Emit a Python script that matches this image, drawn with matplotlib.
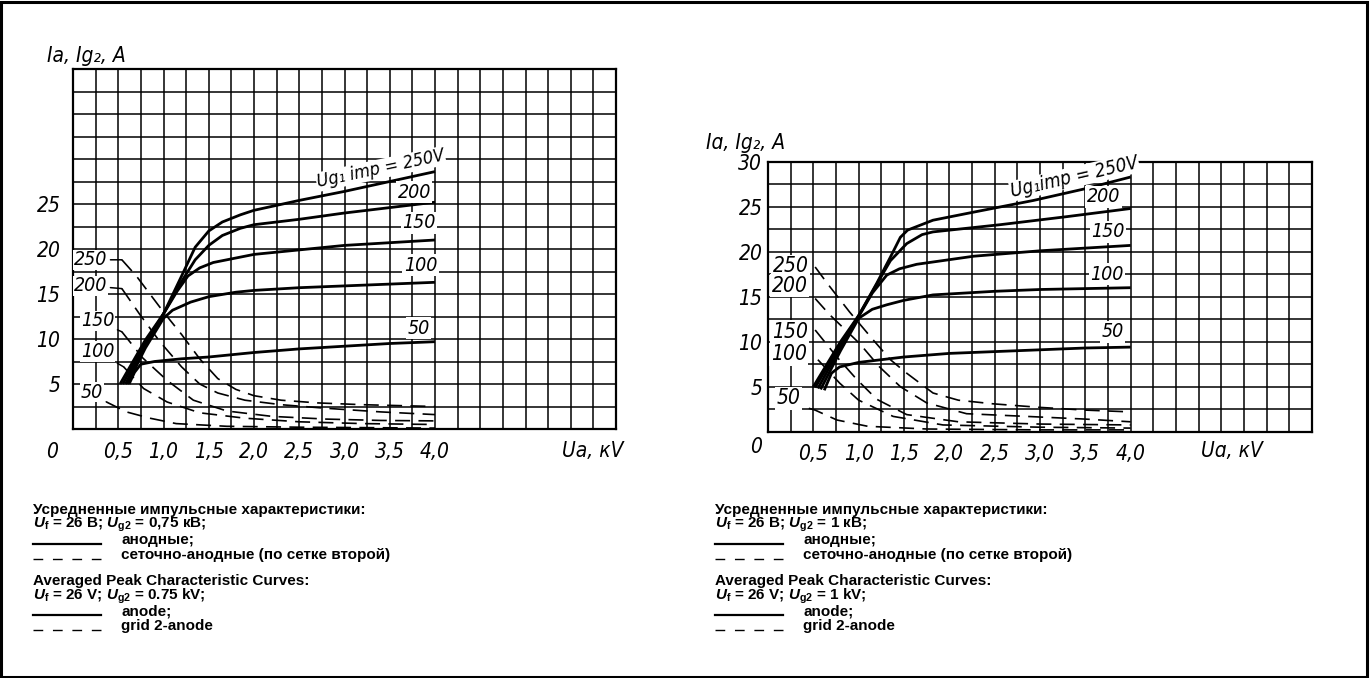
import numpy as np
import matplotlib.pyplot as plt
from matplotlib import font_manager
from matplotlib.lines import Line2D
from matplotlib.patches import Rectangle
from matplotlib.ticker import MultipleLocator, FuncFormatter

plt.rcParams['mathtext.fontset'] = 'custom'
plt.rcParams['mathtext.rm'] = 'Liberation Sans:bold'
plt.rcParams['mathtext.it'] = 'Liberation Sans:italic:bold'
plt.rcParams['mathtext.bf'] = 'Liberation Sans:bold'

names = {f.name for f in font_manager.fontManager.ttflist}
draw_font = 'Liberation Sans Narrow' if 'Liberation Sans Narrow' in names else 'DejaVu Sans'
DRAW = dict(family=[draw_font, 'DejaVu Sans'], style='italic', stretch='condensed')

# ---- data: Ua (kV), Ia / Ig2 (A), keyed by Ug1 imp (V) ----
left_anode = {
    50: ([0.62, 0.68, 0.75, 0.9, 1.2, 1.5, 2.0, 2.5, 3.0, 3.5, 4.0],
         [5.0, 6.3, 7.2, 7.5, 7.8, 8.0, 8.5, 8.9, 9.2, 9.5, 9.7]),
    100: ([0.6, 0.8, 1.0, 1.1, 1.3, 1.5, 1.8, 2.0, 2.5, 3.0, 3.5, 4.0],
          [5.0, 9.0, 12.3, 13.2, 14.1, 14.7, 15.2, 15.4, 15.7, 15.9, 16.1, 16.3]),
    150: ([0.58, 0.8, 1.0, 1.15, 1.27, 1.4, 1.55, 2.0, 2.5, 3.0, 3.5, 4.0],
          [5.0, 9.3, 12.8, 15.3, 17.0, 17.9, 18.5, 19.4, 19.9, 20.4, 20.7, 21.0]),
    200: ([0.55, 0.8, 1.0, 1.2, 1.35, 1.5, 1.65, 1.85, 2.0, 2.5, 3.0, 3.5, 4.0],
          [5.0, 9.6, 12.8, 16.4, 18.8, 20.4, 21.5, 22.3, 22.7, 23.3, 24.0, 24.6, 25.2]),
    250: ([0.52, 0.8, 1.0, 1.2, 1.35, 1.5, 1.65, 1.85, 2.0, 2.5, 3.0, 3.5, 4.0],
          [5.0, 9.9, 12.8, 17.0, 20.2, 22.0, 23.0, 23.8, 24.3, 25.4, 26.4, 27.5, 28.6]),
}
left_grid2 = {
    50: ([0.37, 0.59, 0.85, 1.14, 1.7, 2.5, 4.0],
         [3.0, 1.9, 1.2, 0.6, 0.3, 0.2, 0.1]),
    100: ([0.56, 0.78, 1.04, 1.4, 1.9, 2.5, 3.2, 4.0],
          [6.9, 4.5, 3.0, 1.8, 1.2, 0.8, 0.6, 0.5]),
    150: ([0.54, 0.77, 1.04, 1.33, 1.7, 2.2, 2.8, 3.4, 4.0],
          [10.8, 7.9, 5.4, 3.2, 2.0, 1.4, 1.1, 0.95, 0.9]),
    200: ([0.54, 0.74, 0.96, 1.2, 1.4, 1.6, 1.9, 2.3, 2.8, 3.4, 4.0],
          [15.6, 12.7, 9.7, 6.9, 5.0, 4.0, 3.2, 2.7, 2.3, 1.9, 1.6]),
    250: ([0.54, 0.7, 0.85, 1.0, 1.2, 1.4, 1.6, 1.8, 2.0, 2.3, 2.7, 3.2, 3.6, 4.0],
          [18.8, 17.0, 15.0, 13.0, 10.5, 7.8, 5.6, 4.4, 3.7, 3.2, 2.9, 2.7, 2.6, 2.5]),
}
right_anode = {
    50: ([0.62, 0.7, 0.79, 1.0, 1.5, 2.0, 2.5, 3.0, 3.5, 4.0],
         [4.6, 6.5, 7.2, 7.7, 8.3, 8.7, 8.9, 9.1, 9.3, 9.4]),
    100: ([0.58, 0.8, 1.0, 1.15, 1.31, 1.5, 1.82, 2.5, 3.0, 4.0],
          [4.7, 9.0, 12.6, 13.6, 14.1, 14.6, 15.2, 15.6, 15.8, 16.0]),
    150: ([0.55, 0.8, 1.0, 1.15, 1.31, 1.45, 1.64, 2.27, 3.0, 4.0],
          [4.8, 9.4, 12.8, 15.4, 17.4, 18.1, 18.6, 19.5, 20.1, 20.7]),
    200: ([0.52, 0.8, 1.0, 1.2, 1.35, 1.53, 1.7, 1.82, 2.56, 3.3, 4.0],
          [4.9, 9.7, 12.9, 16.4, 19.0, 20.9, 21.9, 22.2, 23.0, 23.9, 24.8]),
    250: ([0.5, 0.8, 1.0, 1.2, 1.35, 1.46, 1.54, 1.82, 2.27, 2.93, 3.5, 4.0],
          [5.0, 10.0, 12.9, 16.5, 19.4, 21.6, 22.4, 23.5, 24.4, 25.7, 27.0, 28.3]),
}
right_grid2 = {
    50: ([0.45, 0.52, 0.76, 1.1, 1.75, 3.0, 4.0],
         [2.6, 2.4, 1.3, 0.6, 0.3, 0.2, 0.2]),
    100: ([0.55, 0.79, 1.0, 1.38, 1.93, 3.0, 4.0],
          [8.0, 5.4, 3.5, 1.7, 0.75, 0.5, 0.4]),
    150: ([0.52, 0.76, 0.98, 1.2, 1.53, 2.1, 3.0, 4.0],
          [11.3, 8.3, 5.8, 3.6, 1.9, 1.1, 0.85, 0.75]),
    200: ([0.52, 0.68, 1.01, 1.23, 1.46, 1.75, 2.19, 2.85, 3.5, 4.0],
          [14.8, 13.0, 9.8, 7.2, 5.0, 3.2, 2.0, 1.7, 1.4, 1.1]),
    250: ([0.52, 0.66, 0.9, 1.16, 1.35, 1.53, 1.82, 2.1, 2.48, 3.0, 3.5, 4.0],
          [18.3, 16.4, 13.3, 10.2, 8.0, 6.5, 4.3, 3.5, 3.1, 2.7, 2.4, 2.2]),
}

# label positions (kV, A)
left_end_labels = {200: (3.77, 26.3), 150: (3.82, 22.9), 100: (3.84, 18.2), 50: (3.82, 11.2)}
left_g2_labels = {250: (0.19, 18.8), 200: (0.19, 15.9), 150: (0.27, 12.0), 100: (0.27, 8.6), 50: (0.21, 4.1)}
right_end_labels = {200: (3.7, 26.1), 150: (3.75, 22.2), 100: (3.74, 17.5), 50: (3.8, 11.1)}
right_g2_labels = {250: (0.25, 18.4), 200: (0.24, 16.2), 150: (0.24, 11.1), 100: (0.23, 8.6), 50: (0.23, 3.7)}

W, H = 1370, 678
fig = plt.figure(figsize=(W / 100, H / 100), dpi=100)
fig.patches.append(Rectangle((0.001, 0.002), 0.997, 0.995, transform=fig.transFigure,
                             fill=False, lw=2.2, edgecolor='black'))


def px_axes(x0, y_top, x1, y_bot):
    return fig.add_axes([x0 / W, 1 - y_bot / H, (x1 - x0) / W, (y_bot - y_top) / H])


def kv_fmt(v, pos):
    if v < 0.4 or v > 4.1:
        return ''
    return f'{v:.1f}'.replace('.', ',')


def setup(ax, ymax, ylab_max, ypad):
    ax.set_xlim(0, 6)
    ax.set_ylim(0, ymax)
    ax.xaxis.set_major_locator(MultipleLocator(0.5))
    ax.xaxis.set_minor_locator(MultipleLocator(0.25))
    ax.yaxis.set_major_locator(MultipleLocator(5))
    ax.yaxis.set_minor_locator(MultipleLocator(2.5))
    ax.xaxis.set_major_formatter(FuncFormatter(kv_fmt))
    ax.yaxis.set_major_formatter(FuncFormatter(lambda v, p: f'{v:g}' if 0 < v <= ylab_max else ''))
    ax.grid(True, which='both', color='black', lw=1.1)
    ax.tick_params(which='both', length=0)
    ax.tick_params(axis='x', pad=9)
    ax.tick_params(axis='y', pad=ypad)
    for lab in ax.get_xticklabels() + ax.get_yticklabels():
        lab.set_family(DRAW['family'])
        lab.set_style('italic')
        lab.set_stretch('condensed')
        lab.set_fontsize(15)
    for s in ax.spines.values():
        s.set_linewidth(1.6)


def curves(ax, anode, grid2):
    for k, (u, i) in anode.items():
        ax.plot(u, i, color='black', lw=2.0, solid_capstyle='butt', zorder=4)
    for k, (u, i) in grid2.items():
        ax.plot(u, i, color='black', lw=1.2, dashes=(9, 5), zorder=4)


def lab(ax, x, y, s, size=14):
    ax.text(x, y, s, fontsize=size, ha='center', va='center', zorder=5,
            bbox=dict(facecolor='white', edgecolor='none', pad=1.0), **DRAW)


# ---------------- left chart ----------------
axL = px_axes(73, 69, 616, 429)
setup(axL, 40, 25, 9)
curves(axL, left_anode, left_grid2)
for k, (x, y) in left_end_labels.items():
    lab(axL, x, y, str(k))
for k, (x, y) in left_g2_labels.items():
    u, i = left_grid2[k]
    axL.annotate(str(k), xy=(u[0], i[0]), xytext=(x, y), fontsize=14,
                 ha='center', va='center', zorder=5,
                 bbox=dict(facecolor='white', edgecolor='none', pad=0.5),
                 arrowprops=dict(arrowstyle='-', lw=1.1, color='black', shrinkA=2, shrinkB=0),
                 **DRAW)
axL.text(3.4, 28.9, 'Ug₁ imp = 250V', fontsize=13, rotation=12, ha='center',
         va='center', zorder=5, bbox=dict(facecolor='white', edgecolor='none', pad=0.5), **DRAW)
axL.text(-0.23, -2.5, '0', fontsize=15, ha='center', va='center', clip_on=False, **DRAW)
fig.text(47 / W, 1 - 56 / H, 'Ia, Ig₂, A', fontsize=15, ha='left', va='center', **DRAW)
fig.text(593 / W, 1 - 451 / H, 'Ua, кV', fontsize=15, ha='center', va='center', **DRAW)

# ---------------- right chart ----------------
axR = px_axes(768, 161.7, 1312, 431.7)
setup(axR, 30, 30, 4)
curves(axR, right_anode, right_grid2)
for k, (x, y) in right_end_labels.items():
    lab(axR, x, y, str(k))
for k, (x, y) in right_g2_labels.items():
    lab(axR, x, y, str(k), size=15)
axR.text(3.38, 28.3, 'Ug₁imp = 250V', fontsize=13.5, rotation=13, ha='center',
         va='center', zorder=5, bbox=dict(facecolor='white', edgecolor='none', pad=0.5), **DRAW)
axR.text(-0.07, -1.7, '0', fontsize=15, ha='right', va='center', clip_on=False, **DRAW)
fig.text(706 / W, 1 - 143 / H, 'Iɑ, Ig₂, A', fontsize=15, ha='left', va='center', **DRAW)
fig.text(1232 / W, 1 - 451 / H, 'Uɑ, кV', fontsize=15, ha='center', va='center', **DRAW)


# ---------------- captions ----------------
def caption(x0, ug2_ru, ug2_en):
    rows = [
        (510, None, 'Усредненные импульсные характеристики:'),
        (525, None, '$U_\\mathrm{f}$ = 26 В; $U_\\mathrm{g2}$ = ' + ug2_ru + ' кВ;'),
        (540, 'solid', 'анодные;'),
        (555, 'dash', 'сеточно-анодные (по сетке второй)'),
        (581, None, 'Averaged Peak Characteristic Curves:'),
        (596, None, '$U_\\mathrm{f}$ = 26 V; $U_\\mathrm{g2}$ = ' + ug2_en + ' kV;'),
        (611, 'solid', 'anode;'),
        (626, 'dash', 'grid 2-anode'),
    ]
    for y, kind, s in rows:
        tx = x0 if kind is None else x0 + 88
        fig.text(tx / W, 1 - y / H, s, family='Liberation Sans', weight='bold',
                 fontsize=11, ha='left', va='center')
        if kind == 'solid':
            fig.add_artist(Line2D([x0 / W, (x0 + 68) / W], [1 - (y + 4) / H] * 2,
                                  color='black', lw=1.6))
        elif kind == 'dash':
            fig.add_artist(Line2D([x0 / W, (x0 + 68) / W], [1 - (y + 4) / H] * 2,
                                  color='black', lw=1.0, dashes=(7, 7)))


caption(33, '0,75', '0.75')
caption(715, '1', '1')

fig.savefig('out.png', dpi=100)
